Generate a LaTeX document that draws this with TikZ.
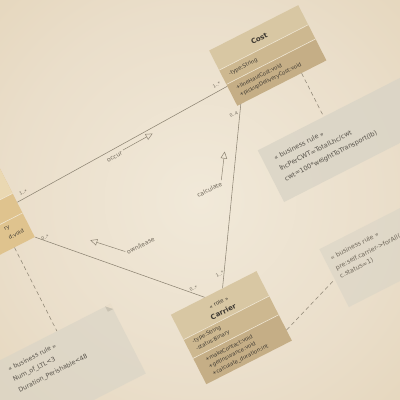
\documentclass[tikz,border=0pt]{standalone}
\usepackage{fontspec}
\setmainfont{DejaVu Sans}
\usetikzlibrary{calc,arrows.meta}

\definecolor{paper}{HTML}{EADECA}
\definecolor{paperhi}{HTML}{F1E9D9}
\definecolor{paperlo}{HTML}{E0CEAE}
\definecolor{tantitle}{HTML}{D8C7A3}
\definecolor{tanattr}{HTML}{CDB890}
\definecolor{tanops}{HTML}{C5AE86}
\definecolor{ochre}{HTML}{DFC38E}
\definecolor{ochrehi}{HTML}{EAD8B2}
\definecolor{rule}{HTML}{EFE6D3}
\definecolor{wire}{HTML}{8E8574}
\definecolor{ink}{HTML}{3F3A32}
\definecolor{noteink}{HTML}{57524A}
\definecolor{notefill}{HTML}{D9D4C6}
\definecolor{labelink}{HTML}{6E6659}
\definecolor{foldshade}{HTML}{C9C2B2}

\pgfdeclareradialshading{parchment}{\pgfpoint{0bp}{0bp}}{%
  color(0bp)=(paperhi); color(24bp)=(paper); color(52bp)=(paperlo)}

\tikzset{
  classbox/.style={rectangle, draw=none, transform shape, inner sep=0pt},
  notebox/.style={rectangle, fill=notefill, fill opacity=0.8, draw=none, transform shape, inner sep=0pt},
  divider/.style={draw=rule, line width=0.6pt},
  member/.style={anchor=west, inner sep=0pt, transform shape, text=ink, font=\fontsize{5.3}{6}\selectfont},
  classname/.style={inner sep=0pt, transform shape, text=ink, font=\bfseries\fontsize{7}{8}\selectfont},
  stereo/.style={inner sep=0pt, transform shape, text=ink, font=\fontsize{5.5}{6}\selectfont},
  notetext/.style={anchor=west, inner sep=0pt, transform shape, text=noteink, font=\fontsize{6.5}{7}\selectfont},
  mult/.style={inner sep=0pt, transform shape, text=labelink, font=\fontsize{4.5}{5}\selectfont},
  assoclabel/.style={inner sep=0pt, transform shape, text=labelink, font=\fontsize{6}{7}\selectfont},
  wireline/.style={draw=wire, line width=0.55pt},
  anchorline/.style={draw=wire, line width=0.55pt, dash pattern=on 4pt off 3pt},
  readdir/.style={draw=wire, line width=0.5pt, -{Triangle[open, length=7pt, width=6.5pt]}},
}

\begin{document}
\begin{tikzpicture}[x=1pt,y=1pt]
\useasboundingbox (-200,-200) rectangle (200,200);
\clip (-200,-200) rectangle (200,200);
\fill[paper] (-200,-200) rectangle (200,200);
\shade[shading=parchment] (-200,-200) rectangle (200,200);

\begin{scope}[rotate=27]
  % ---- class at the left border (only its right end shows)
  \node[classbox, fill=ochre, minimum width=136, minimum height=96] (ship) at (-232,90) {};
  \fill[ochrehi] (-300,91) rectangle (-164,138);
  \draw[divider] (-300,91) -- (-164,91);
  \draw[divider] (-300,69) -- (-164,69);
  \node[member, anchor=east] (shipopA) at (-182,62) {ry};
  \node[member, anchor=east] (shipopB) at (-171,53) {d:void};

  % ---- Cost
  \node[classbox, minimum width=100, minimum height=62] (cost) at (126,98) {};
  \fill[tantitle] (76,129) rectangle (176,107);
  \fill[tanattr] (76,107) rectangle (176,91);
  \fill[tanops] (76,91) rectangle (176,67);
  \draw[divider] (76,107) -- (176,107);
  \draw[divider] (76,91) -- (176,91);
  \node[classname] (costname) at (126,117) {Cost};
  \node[member] (costattr) at (83,99) {-type:String};
  \node[member] (costopA) at (83,83.5) {+lineHaulCost:void};
  \node[member] (costopB) at (83,75) {+pickupDeliveryCost:void};

  % ---- Carrier
  \node[classbox, minimum width=96, minimum height=78] (carrier) at (-30,-128) {};
  \fill[tantitle] (-78,-89) rectangle (18,-117);
  \fill[tanattr] (-78,-117) rectangle (18,-138);
  \fill[tanops] (-78,-138) rectangle (18,-167);
  \draw[divider] (-78,-117) -- (18,-117);
  \draw[divider] (-78,-138) -- (18,-138);
  \node[stereo] (carrierstereo) at (-30,-100) {<< role >>};
  \node[classname] (carriername) at (-30,-110) {Carrier};
  \node[member] (carrierattrA) at (-71,-123) {-type:String};
  \node[member] (carrierattrB) at (-71,-131) {-status:Binary};
  \node[member] (carrieropA) at (-68,-145) {+makeContact:void};
  \node[member] (carrieropB) at (-68,-153) {+getInsurance:void};
  \node[member] (carrieropC) at (-68,-161) {+calculate\_duration:int};

  % ---- notes
  \node[notebox, minimum width=196, minimum height=58] (lhc) at (172,-11) {};
  \node[notetext] (lhcA) at (85,3.5) {<< business rule >>};
  \node[notetext] (lhcB) at (85,-8.5) {lhcPerCWT=TotalLhc/cwt};
  \node[notetext] (lhcC) at (85,-20.5) {cwt=100*weightToTransport(lb)};

  \node[notebox, fill opacity=0.6, minimum width=196, minimum height=65] (pre) at (182,-130.5) {};
  \node[notetext, text=labelink, font=\fontsize{6.3}{7}\selectfont] (preA) at (90,-111) {<< business rule >>};
  \node[notetext, text=labelink, font=\fontsize{6.3}{7}\selectfont] (preB) at (90,-123) {pre:self.carrier->forAll(c|};
  \node[notetext, text=labelink, font=\fontsize{6.3}{7}\selectfont] (preC) at (90,-132) {c.status=1)};

  \node[notebox, fill opacity=0.65, minimum width=203, minimum height=78] (ltl) at (-228.5,-91) {};
  \fill[paper] (ltl.north east) -- ($(ltl.north east)+(-6,0)$) -- ($(ltl.north east)+(0,-6)$) -- cycle;
  \fill[foldshade] ($(ltl.north east)+(-6,0)$) -- ($(ltl.north east)+(-6,-6)$) -- ($(ltl.north east)+(0,-6)$) -- cycle;
  \node[notetext, font=\fontsize{6.3}{7}\selectfont] (ltlA) at (-248,-64) {<< business rule >>};
  \node[notetext, font=\fontsize{6.3}{7}\selectfont] (ltlB) at (-248,-76) {Num\_of\_LTL<3};
  \node[notetext, font=\fontsize{6.3}{7}\selectfont] (ltlC) at (-248,-88) {Duration\_Perishable<48};

  % ---- associations
  \coordinate (occurA) at ($(ship.south east)!0.406!(ship.north east)$);
  \coordinate (occurB) at ($(cost.south west)!0.355!(cost.north west)$);
  \coordinate (ownB) at ($(carrier.north west)!0.396!(carrier.north east)$);
  \coordinate (calcA) at ($(carrier.north west)!0.604!(carrier.north east)$);
  \coordinate (calcB) at ($(cost.south west)!0.04!(cost.south east)$);
  \draw[wireline] (occurA) -- (occurB);
  \draw[wireline] (ship.south east) -- (ownB);
  \draw[wireline] (calcA) -- (calcB);

  % ---- note anchors
  \draw[anchorline] ($(cost.south west)!0.72!(cost.south east)$) -- ($(lhc.north west)!0.378!(lhc.north east)$);
  \draw[anchorline] ($(ship.south west)!0.831!(ship.south east)$) -- ($(ltl.north west)!0.704!(ltl.north east)$);
  \draw[anchorline] ($(carrier.south east)!0.154!(carrier.north east)$) -- ($(pre.south west)!0.477!(pre.north west)$);

  % ---- multiplicities
  \node[mult] (mOccurA) at (-154,87) {1..*};
  \node[mult] (mOccurB) at (67,95) {1..*};
  \node[mult] (mOwnA) at (-155,37) {0..*};
  \node[mult] (mOwnB) at (-46,-76) {0..*};
  \node[mult] (mCalcA) at (-16,-75) {1..*};
  \node[mult] (mCalcB) at (69,61) {0..4};

  % ---- association names with reading direction
  \node[assoclabel, anchor=east] (occurname) at (-48,77) {occur};
  \coordinate (occurdirA) at (-46,79.5);
  \coordinate (occurdirB) at (-12,80.7);
  \draw[readdir] (occurdirA) -- (occurdirB);

  \node[assoclabel, anchor=east] (calcname) at (27,5) {calculate};
  \coordinate (calcdirA) at (28,8);
  \coordinate (calcdirB) at (44,32);
  \draw[readdir] (calcdirA) -- (calcdirB);

  \node[assoclabel, anchor=west] (ownname) at (-89,-14) {own/lease};
  \coordinate (owndirA) at (-90,-12);
  \coordinate (owndirB) at (-116,14);
  \draw[readdir] (owndirA) -- (owndirB);
\end{scope}
\end{tikzpicture}
\end{document}
